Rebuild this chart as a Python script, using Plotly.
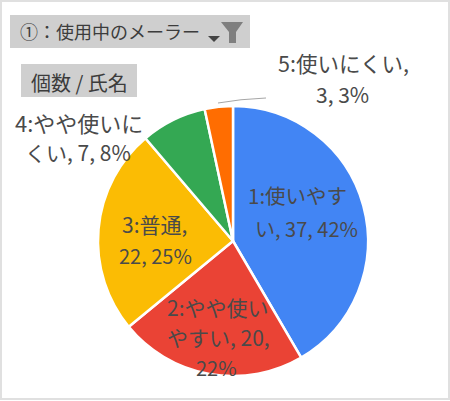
import plotly.graph_objects as go

W = 450
H = 401

# data
labels = ["1:使いやすい", "2:やや使いやすい", "3:普通", "4:やや使いにくい", "5:使いにくい"]
values = [37, 20, 22, 7, 3]
colors = ["#4285f4", "#ea4335", "#fbbc04", "#34a853", "#ff6d01"]
label_rows = [
    "1:使いやす", "い, 37, 42%",
    "2:やや使い", "やすい, 20,", "22%",
    "3:普通,", "22, 25%",
    "4:やや使いに", "くい, 7, 8%",
    "5:使いにくい,", "3, 3%",
]
filter_title = "①：使用中のメーラー"
field_title = "個数 / 氏名"

# where the label rows go, pixels from top left, and their font size
row_x = [297, 306, 218, 218, 216, 154, 155, 79, 78, 343, 342]
row_y = [195, 228, 307, 337, 367, 224, 255, 122, 152, 63, 94]
row_size = [20.5, 20, 21, 21, 20, 21, 20, 22, 21, 21.5, 21]
text_color = "#4a4a4a"
jp_font = "Noto Sans CJK JP"


def px(x):
    return x / W


def py(y):
    return 1 - y / H


fig = go.Figure()
fig.add_trace(go.Pie(
    labels=labels,
    values=values,
    sort=False,
    direction="clockwise",
    rotation=0,
    textinfo="none",
    hoverinfo="label+value+percent",
    marker=dict(colors=colors, line=dict(color="white", width=2.5)),
    domain=dict(x=[px(98), px(368)], y=[py(376), py(106)]),
    showlegend=False,
))

shapes = [
    # outer frame
    dict(type="rect", xref="paper", yref="paper", x0=px(1), x1=px(449), y0=py(399), y1=py(1),
         line=dict(color="#e0e0e0", width=2), fillcolor="rgba(0,0,0,0)", layer="below"),
    # filter buttons
    dict(type="rect", xref="paper", yref="paper", x0=px(10), x1=px(250), y0=py(48), y1=py(15),
         line=dict(width=0), layer="below",
         fillcolor="#cfcfcf"),
    dict(type="rect", xref="paper", yref="paper", x0=px(21), x1=px(137), y0=py(97), y1=py(64),
         line=dict(width=0), layer="below",
         fillcolor="#cfcfcf"),
    # small arrow
    dict(type="path", xref="paper", yref="paper", line=dict(width=0), fillcolor="#444444",
         path=f"M {px(208)} {py(36)} L {px(220)} {py(36)} L {px(214)} {py(42)} Z"),
    # funnel
    dict(type="path", xref="paper", yref="paper", line=dict(width=0), fillcolor="#7f7f7f",
         path=f"M {px(221)} {py(22)} L {px(243)} {py(22)} L {px(236)} {py(32)} L {px(236)} {py(43)} "
              f"L {px(229)} {py(43)} L {px(229)} {py(32)} Z"),
    # leader line for the small slice
    dict(type="path", xref="paper", yref="paper", line=dict(color="#a6a6a6", width=1),
         path=f"M {px(218)} {py(103)} Q {px(240)} {py(99)} {px(266)} {py(98)}"),
]

annotations = [
    dict(text=t, x=px(x), y=py(y), xref="paper", yref="paper", showarrow=False,
         xanchor="center", yanchor="middle", font=dict(family=jp_font, size=s, color=text_color))
    for t, x, y, s in zip(label_rows, row_x, row_y, row_size)
]
annotations.append(dict(text=filter_title, x=px(18), y=py(31), xref="paper", yref="paper",
                        showarrow=False, xanchor="left", yanchor="middle",
                        font=dict(family=jp_font, size=18, color="#3c3c3c")))
annotations.append(dict(text=field_title, x=px(79), y=py(82), xref="paper", yref="paper",
                        showarrow=False, xanchor="center", yanchor="middle",
                        font=dict(family=jp_font, size=20, color="#3c3c3c")))

fig.update_layout(
    width=W,
    height=H,
    margin=dict(l=0, r=0, t=0, b=0),
    paper_bgcolor="white",
    shapes=shapes,
    annotations=annotations,
)

fig.write_html("out.html", config=dict(displayModeBar=False),
               post_script="document.body.style.margin='0';")
